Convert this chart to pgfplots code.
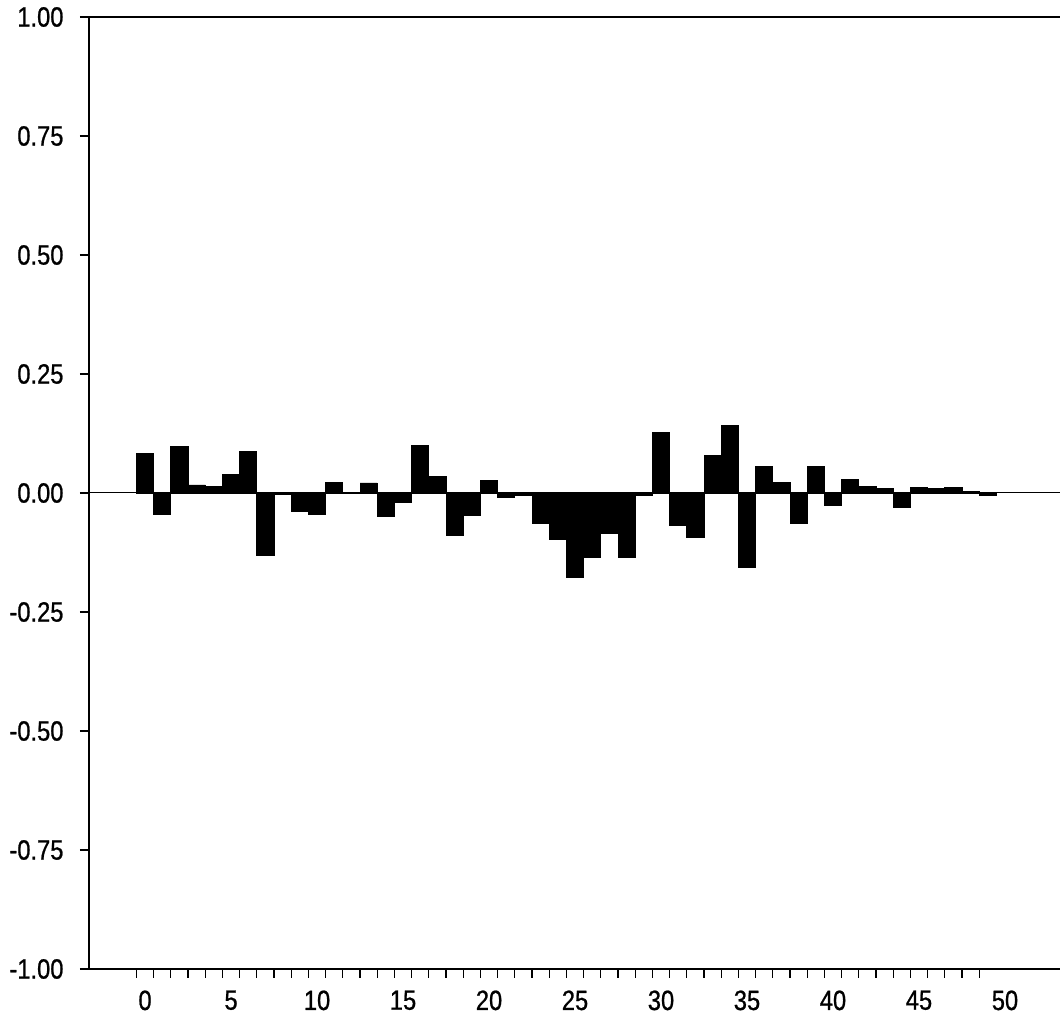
\documentclass[border=0pt]{standalone}
\usepackage{pgfplots}
\pgfplotsset{compat=1.18}
\usepackage{fontspec}
\setmainfont{Liberation Sans}[FakeStretch=0.85, FakeBold=0.8]

% autocorrelation by lag
\pgfplotstableread{
lag  r
0    0.084
1   -0.046
2    0.097
3    0.017
4    0.013
5    0.039
6    0.087
7   -0.132
8   -0.003
9   -0.038
10  -0.046
11   0.023
12   0.002
13   0.021
14  -0.050
15  -0.020
16   0.099
17   0.035
18  -0.090
19  -0.047
20   0.027
21  -0.010
22  -0.006
23  -0.064
24  -0.097
25  -0.178
26  -0.136
27  -0.085
28  -0.136
29  -0.005
30   0.128
31  -0.069
32  -0.094
33   0.078
34   0.142
35  -0.157
36   0.055
37   0.023
38  -0.063
39   0.055
40  -0.027
41   0.028
42   0.013
43   0.009
44  -0.031
45   0.011
46   0.010
47   0.012
48   0.003
49  -0.006
}\acf

\begin{document}
\begin{tikzpicture}
\begin{axis}[
  name=ax,
  at={(0,0)}, anchor=south west,
  width=971bp, height=952bp, scale only axis,
  xmin=-3.26, xmax=53.2,
  ymin=-1, ymax=1,
  clip=false,
  axis line style={draw=none},
  tick align=outside,
  xtick pos=bottom, ytick pos=left,
  major tick length=9bp,
  every tick/.style={black, line width=1.2bp},
  xtick={-0.5,0.5,...,48.5},
  xticklabels={},
  extra x ticks={0,5,...,50},
  extra x tick labels={0,5,10,15,20,25,30,35,40,45,50},
  extra x tick style={major tick length=0pt,
    every tick/.style={draw=none},
    xticklabel style={yshift=-18bp}},
  ytick={-1,-0.75,...,1},
  yticklabels={-1.00,-0.75,-0.50,-0.25,0.00,0.25,0.50,0.75,1.00},
  yticklabel style={xshift=-13bp},
  tick label style={font=\fontsize{28}{30}\selectfont},
]
  % zero reference line
  \draw[line width=1bp] (rel axis cs:0,0.5) -- (rel axis cs:1,0.5);
  \addplot[ybar, bar width=1, fill=black, draw=black, line width=0.8bp]
    table[x=lag, y=r] {\acf};
  % frame: left, bottom and heavier top rule
  \draw[line width=1.6bp] (rel axis cs:0,1) -- (rel axis cs:0,0) -- (rel axis cs:1,0);
  \draw[line width=2.6bp] (rel axis cs:0,1) -- (rel axis cs:1,1);
\end{axis}
\pgfresetboundingbox
\path[use as bounding box] (-89bp,-59bp) rectangle (971bp,969bp);
\end{tikzpicture}
\end{document}
